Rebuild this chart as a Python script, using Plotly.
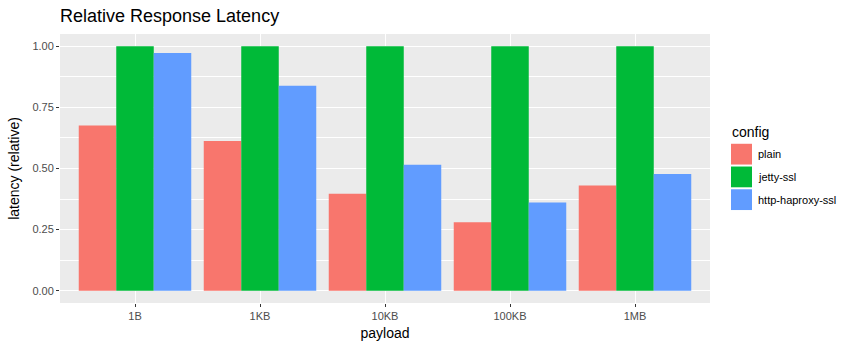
import plotly.graph_objects as go

payloads = ["1B", "1KB", "10KB", "100KB", "1MB"]
configs = ["plain", "jetty-ssl", "http-haproxy-ssl"]
plain = [0.676, 0.612, 0.397, 0.280, 0.430]
jetty_ssl = [1.0, 1.0, 1.0, 1.0, 1.0]
haproxy_ssl = [0.972, 0.838, 0.515, 0.361, 0.478]
colors = ["#F8766D", "#00BA38", "#619CFF"]
y_ticks = [0.0, 0.25, 0.5, 0.75, 1.0]
y_tick_labels = ["0.00", "0.25", "0.50", "0.75", "1.00"]

W, H = 858, 350
fig = go.Figure()
for name, vals, col in zip(configs, [plain, jetty_ssl, haproxy_ssl], colors):
    fig.add_trace(go.Bar(x=payloads, y=vals, name=name, marker_color=col,
                         marker_line_width=0, showlegend=False))

font = "Liberation Sans, Arial, sans-serif"

# ggplot-style legend (keys drawn in paper coordinates)
key_x0, key_x1 = 731, 752
key_top, key_h, key_gap = 145, 21, 2
shapes, annotations = [], []
annotations.append(dict(text="config", xref="paper", yref="paper",
                        x=(730 - 60) / (W - 208), y=(H - 44 - 133) / (H - 78),
                        xanchor="left", yanchor="middle", showarrow=False,
                        font=dict(size=14, color="black")))
for i, (name, col) in enumerate(zip(configs, colors)):
    top = key_top + i * (key_h + key_gap)
    bot = top + key_h
    to_px = lambda px: (px - 60) / (W - 208)
    to_py = lambda py: (H - 44 - py) / (H - 78)
    shapes.append(dict(type="rect", xref="paper", yref="paper",
                       x0=to_px(key_x0), x1=to_px(key_x1), y0=to_py(bot), y1=to_py(top),
                       fillcolor=col, line=dict(width=0)))
    annotations.append(dict(text=name, xref="paper", yref="paper",
                            x=to_px(756), y=to_py((top + bot) / 2),
                            xanchor="left", yanchor="middle", showarrow=False,
                            font=dict(size=11, color="black")))

fig.update_layout(
    width=W, height=H,
    margin=dict(l=60, r=148, t=34, b=44),
    paper_bgcolor="white", plot_bgcolor="#EBEBEB",
    barmode="group", bargap=0.1, bargroupgap=0,
    font=dict(family=font, color="black"),
    title=dict(text="Relative Response Latency", x=60/W, xanchor="left",
               y=1-16/H, yanchor="middle", font=dict(size=18, color="black")),
    shapes=shapes, annotations=annotations,
    showlegend=False,
)
fig.update_xaxes(
    title=dict(text="payload", font=dict(size=14), standoff=6),
    showgrid=True, gridcolor="white", gridwidth=1.1,
    ticks="outside", ticklen=3, tickcolor="#333333",
    tickfont=dict(size=11, color="#4D4D4D"), zeroline=False,
    range=[-0.6, 4.6],
)
fig.update_yaxes(
    title=dict(text="latency (relative)", font=dict(size=14), standoff=9),
    range=[-0.05, 1.05], tickvals=y_ticks, ticktext=y_tick_labels,
    showgrid=True, gridcolor="white", gridwidth=1.1,
    minor=dict(tickvals=[0.125, 0.375, 0.625, 0.875], showgrid=True,
               gridcolor="white", gridwidth=0.5),
    ticks="outside", ticklen=3, tickcolor="#333333",
    tickfont=dict(size=11, color="#4D4D4D"), zeroline=False,
)
fig.write_html("out.html")
